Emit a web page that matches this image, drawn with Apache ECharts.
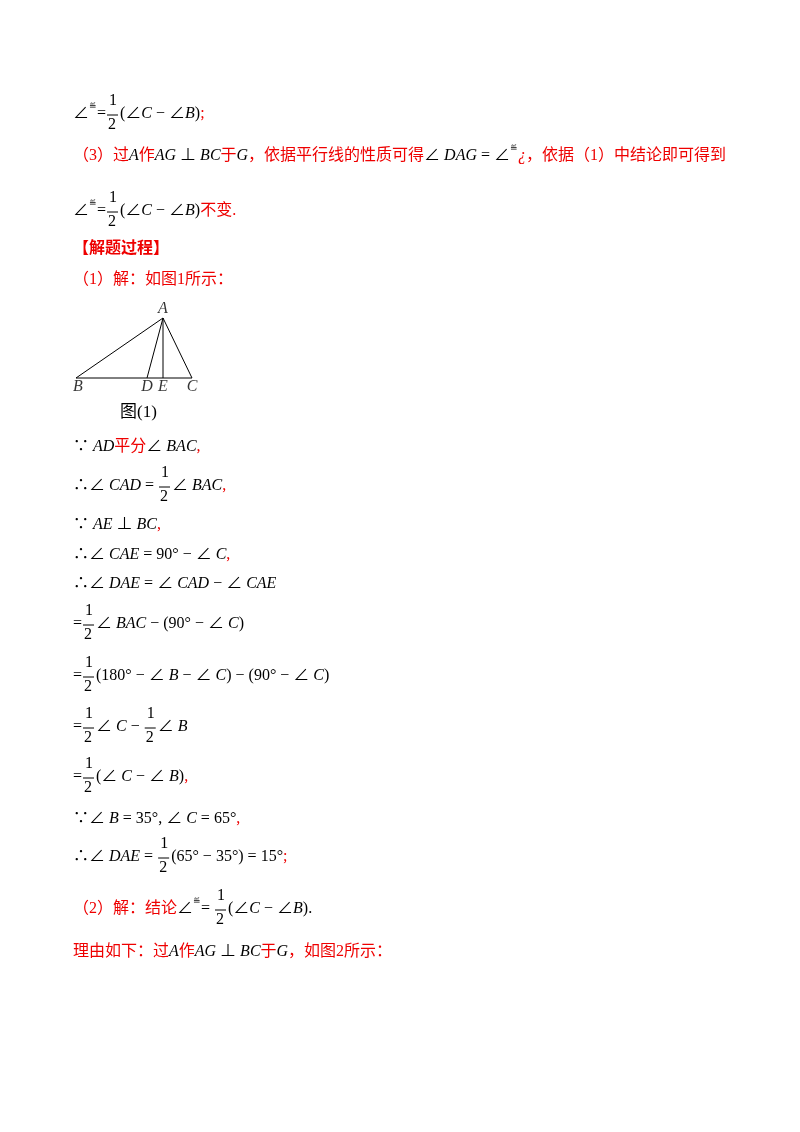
<!DOCTYPE html>
<html>
<head>
<meta charset="utf-8">
<script src="https://cdn.jsdelivr.net/npm/echarts@6/dist/echarts.min.js"></script>
</head>
<body style="margin:0;background:#fff">
<div id="main" style="width:800px;height:1132px"></div>
<script>
// 图(1) 三角形顶点
var pointNames = ['A', 'B', 'C', 'D', 'E'];
var pointX = [163, 76, 192, 147, 163];
var pointY = [318, 378, 378, 378, 378];
var edges = [['A', 'B'], ['A', 'C'], ['B', 'C'], ['A', 'D'], ['A', 'E']];

// 文本行：[y, 片段...]；片段 [文字, 颜色, 斜体] 或 ['F'] 表示 1/2 分数
var K = '#000', R = '#e00';
var lines = [
  [115, ['∠', K], ['≝', K, 0, 1], ['=', K], ['F'], ['(∠', K], ['C', K, 1], [' − ∠', K], ['B', K, 1], [')', K], [';', R]],
  [157, ['（3）过', R], ['A', K, 1], ['作', R], ['AG', K, 1], [' ⊥ ', K], ['BC', K, 1], ['于', R], ['G', K, 1], ['，依据平行线的性质可得', R], ['∠ ', K], ['DAG', K, 1], [' = ∠', K], ['≝', K, 0, 1], ['¿', R, 1], ['，依据（1）中结论即可得到', R]],
  [212, ['∠', K], ['≝', K, 0, 1], ['=', K], ['F'], ['(∠', K], ['C', K, 1], [' − ∠', K], ['B', K, 1], [')', K], ['不变.', R]],
  [250, ['【解题过程】', R, 0, 0, 1]],
  [281, ['（1）解：如图1所示：', R]],
  [448, ['∵ ', K], ['AD', K, 1], ['平分', R], ['∠ ', K], ['BAC', K, 1], [',', R]],
  [487, ['∴∠ ', K], ['CAD', K, 1], [' = ', K], ['F'], ['∠ ', K], ['BAC', K, 1], [',', R]],
  [526, ['∵ ', K], ['AE', K, 1], [' ⊥ ', K], ['BC', K, 1], [',', R]],
  [556, ['∴∠ ', K], ['CAE', K, 1], [' = 90° − ∠ ', K], ['C', K, 1], [',', R]],
  [585, ['∴∠ ', K], ['DAE', K, 1], [' = ∠ ', K], ['CAD', K, 1], [' − ∠ ', K], ['CAE', K, 1]],
  [625, ['=', K], ['F'], ['∠ ', K], ['BAC', K, 1], [' − (90° − ∠ ', K], ['C', K, 1], [')', K]],
  [677, ['=', K], ['F'], ['(180° − ∠ ', K], ['B', K, 1], [' − ∠ ', K], ['C', K, 1], [') − (90° − ∠ ', K], ['C', K, 1], [')', K]],
  [728, ['=', K], ['F'], ['∠ ', K], ['C', K, 1], [' − ', K], ['F'], ['∠ ', K], ['B', K, 1]],
  [778, ['=', K], ['F'], ['(∠ ', K], ['C', K, 1], [' − ∠ ', K], ['B', K, 1], [')', K], [',', R]],
  [820, ['∵∠ ', K], ['B', K, 1], [' = 35°, ∠ ', K], ['C', K, 1], [' = 65°', K], [',', R]],
  [858, ['∴∠ ', K], ['DAE', K, 1], [' = ', K], ['F'], ['(65° − 35°) = 15°', K], [';', R]],
  [910, ['（2）解：结论', R], ['∠', K], ['≝', K, 0, 1], ['= ', K], ['F'], ['(∠', K], ['C', K, 1], [' − ∠', K], ['B', K, 1], [').', K]],
  [953, ['理由如下：过', R], ['A', K, 1], ['作', R], ['AG', K, 1], [' ⊥ ', K], ['BC', K, 1], ['于', R], ['G', K, 1], ['，如图2所示：', R]]
];

var SERIF = '"Liberation Serif", "Noto Sans CJK SC", serif';
var ctx = document.createElement('canvas').getContext('2d');
function fontOf(size, italic, bold) {
  return (italic ? 'italic ' : '') + (bold ? 'bold ' : '') + size + 'px ' + SERIF;
}
var graphics = [];
lines.forEach(function (ln) {
  var y = ln[0], x = 73;
  for (var i = 1; i < ln.length; i++) {
    var s = ln[i];
    if (s[0] === 'F') {
      graphics.push({ type: 'text', left: x + 3, top: y - 22, style: { text: '1', font: fontOf(16), fill: K } });
      graphics.push({ type: 'line', shape: { x1: x + 1, y1: y, x2: x + 12, y2: y }, style: { stroke: K, lineWidth: 1 } });
      graphics.push({ type: 'text', left: x + 2, top: y + 2, style: { text: '2', font: fontOf(16), fill: K } });
      x += 14;
      continue;
    }
    var size = s[3] ? 9 : 16;
    var f = fontOf(size, s[2], s[4]);
    ctx.font = f;
    graphics.push({ type: 'text', left: x, top: s[3] ? y - 13 : y - 9, style: { text: s[0], font: f, fill: s[1] } });
    x += ctx.measureText(s[0]).width;
  }
});
// 图注
graphics.push({ type: 'text', left: 120, top: 404, style: { text: '图(1)', font: fontOf(17), fill: K } });

var pts = {};
pointNames.forEach(function (n, i) { pts[n] = [pointX[i], pointY[i]]; });
var series = edges.map(function (e) {
  return { type: 'line', data: [pts[e[0]], pts[e[1]]], symbol: 'none', silent: true,
    lineStyle: { color: '#000', width: 1 }, animation: false };
});
series.push({
  type: 'scatter', symbolSize: 0, animation: false,
  data: pointNames.map(function (n) { return pts[n]; }),
  label: { show: true, formatter: function (p) { return pointNames[p.dataIndex]; },
    position: 'inside', align: 'center', verticalAlign: 'middle',
    fontFamily: 'Liberation Serif', fontStyle: 'italic', fontSize: 16, color: '#000' },
  labelLayout: function (p) {
    var n = pointNames[p.dataIndex];
    return n === 'A' ? { dy: -9 } : { dy: 9, dx: n === 'B' ? 2 : 0 };
  }
});

var chart = echarts.init(document.getElementById('main'));
chart.setOption({
  animation: false,
  grid: { left: 0, right: 0, top: 0, bottom: 0 },
  xAxis: { type: 'value', min: 0, max: 800, show: false },
  yAxis: { type: 'value', min: 0, max: 1132, inverse: true, show: false },
  series: series,
  graphic: graphics
});
</script>
</body>
</html>
